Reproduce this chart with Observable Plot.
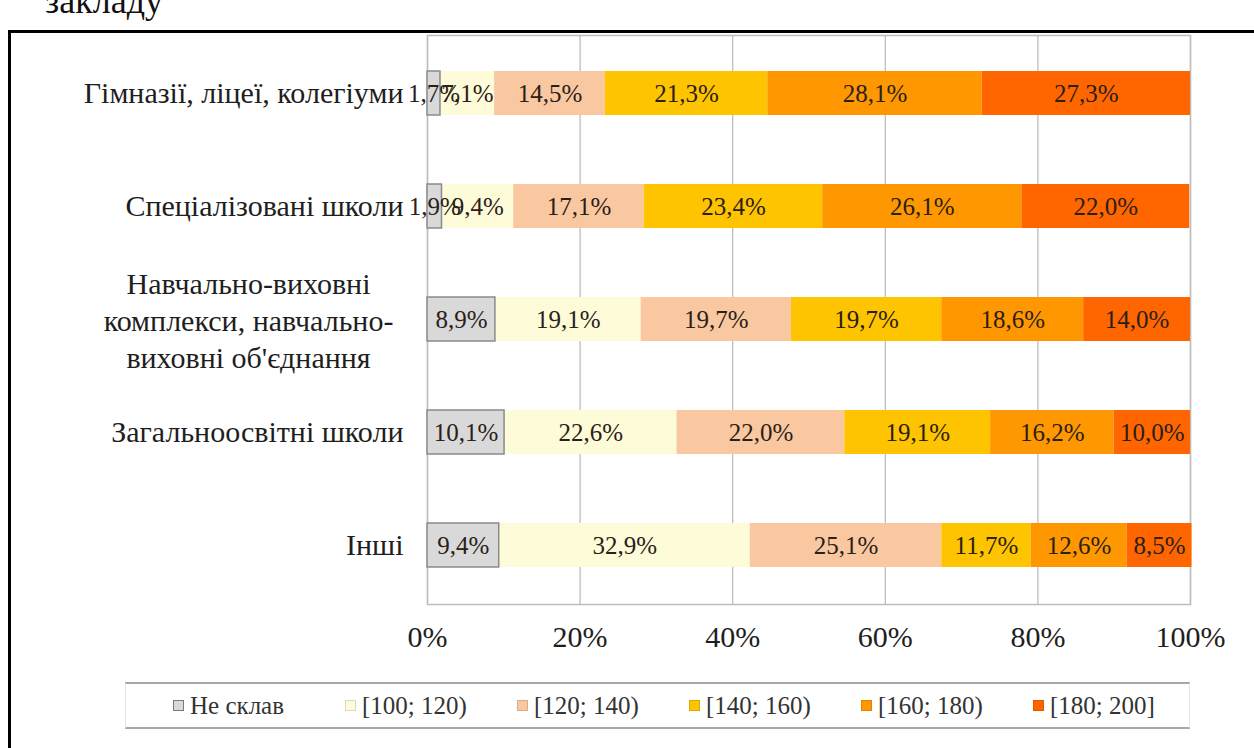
<!DOCTYPE html>
<html>
<head>
<meta charset="utf-8">
<script src="https://cdn.jsdelivr.net/npm/d3@7"></script>
<script src="https://cdn.jsdelivr.net/npm/@observablehq/plot@0.6"></script>
<style>
  html, body { margin: 0; padding: 0; background: #fff; width: 1254px; height: 748px; overflow: hidden; }
  body { position: relative; font-family: "Liberation Serif", "Times New Roman", serif; }
  #head { position: absolute; left: 45px; top: -20px; font-size: 36px; color: #111; }
  #box { position: absolute; left: 8px; top: 30px; right: -10px; bottom: -10px; border-left: 3px solid #000; border-top: 3px solid #000; }
  #chart { position: absolute; left: 0; top: 0; }
  #chart svg, #chart svg text { font-family: "Liberation Serif", "Times New Roman", serif !important; }
  #legend { position: absolute; left: 125px; top: 682px; width: 1065px; height: 47px;
            border-top: 2px solid #a6a6a6; border-bottom: 2px solid #a6a6a6; border-left: 1px solid #e4e4e4; border-right: 1px solid #e4e4e4;
            display: grid; grid-template-columns: repeat(6, 172px); align-items: center; padding-left: 47px; box-sizing: border-box;
            font-size: 25px; color: #333; }
  .item { display: flex; align-items: center; white-space: nowrap; }
  .sw { width: 11px; height: 11px; margin-right: 6px; box-sizing: border-box; }
</style>
</head>
<body>
<div id="head">закладу</div>
<div id="box"></div>
<div id="chart"></div>
<div id="legend"></div>
<script>
// ---- data ----
const categories = [
  "Гімназії, ліцеї, колегіуми",
  "Спеціалізовані школи",
  "Навчально-виховні комплекси, навчально-виховні об'єднання",
  "Загальноосвітні школи",
  "Інші"
];
const categoryLines = [
  ["Гімназії, ліцеї, колегіуми"],
  ["Спеціалізовані школи"],
  ["Навчально-виховні", "комплекси, навчально-", "виховні об'єднання"],
  ["Загальноосвітні школи"],
  ["Інші"]
];
const seriesNames = ["Не склав", "[100; 120)", "[120; 140)", "[140; 160)", "[160; 180)", "[180; 200]"];
const seriesColors = ["#d9d9d9", "#fefcd8", "#fac8a0", "#ffc400", "#ff9800", "#ff6600"];
const neSklav     = [1.7, 1.9, 8.9, 10.1, 9.4];
const s100_120    = [7.1, 9.4, 19.1, 22.6, 32.9];
const s120_140    = [14.5, 17.1, 19.7, 22.0, 25.1];
const s140_160    = [21.3, 23.4, 19.7, 19.1, 11.7];
const s160_180    = [28.1, 26.1, 18.6, 16.2, 12.6];
const s180_200    = [27.3, 22.0, 14.0, 10.0, 8.5];
const xTicks = [0, 0.2, 0.4, 0.6, 0.8, 1];

// ---- build table ----
const seriesValues = [neSklav, s100_120, s120_140, s140_160, s160_180, s180_200];
const rows = [];
categories.forEach((c, i) => {
  seriesNames.forEach((s, j) => rows.push({category: c, series: s, value: seriesValues[j][i]}));
});
const labelOf = new Map(categories.map((c, i) => [c, categoryLines[i].join("\n")]));
const single = categories.filter((c, i) => categoryLines[i].length === 1);
const multi = categories.filter((c, i) => categoryLines[i].length > 1);
const fmt = v => v.toFixed(1).replace(".", ",") + "%";
const serif = "'Liberation Serif', 'Times New Roman', serif";

const chart = Plot.plot({
  width: 1254,
  height: 660,
  marginLeft: 427,
  marginRight: 64,
  marginTop: 35,
  marginBottom: 56,
  style: {fontFamily: serif, background: "transparent", color: "#1e1e1e"},
  x: {domain: [0, 1], axis: null},
  y: {domain: categories, axis: null, paddingInner: 0.61, paddingOuter: 0.305},
  color: {domain: seriesNames, range: seriesColors},
  marks: [
    Plot.gridX(xTicks, {stroke: "#b8b8b8", strokeOpacity: 1, strokeWidth: 1.2}),
    Plot.frame({stroke: "#bdbdbd", strokeWidth: 1.5}),
    Plot.barX(rows, Plot.stackX({x: d => d.value / 100, y: "category", fill: "series", z: "series"})),
    Plot.barX(rows.filter(d => d.series === seriesNames[0]), {x: d => d.value / 100, y: "category", fill: "none", stroke: "#8a8a8a", strokeWidth: 1.5}),
    Plot.text(rows, Plot.stackX({x: d => d.value / 100, y: "category", z: "series", text: d => fmt(d.value), fill: "#2a2018", fontSize: 25, fontFamily: serif})),
    Plot.axisX(xTicks, {anchor: "bottom", tickSize: 0, tickPadding: 21, fontSize: 30, fontFamily: serif, tickFormat: d => Math.round(d * 100) + "%", fill: "#1e1e1e"}),
    Plot.text(single, {y: d => d, text: d => labelOf.get(d), frameAnchor: "left", dx: -24, textAnchor: "end", fontSize: 30, fontFamily: serif, fill: "#1e1e1e"}),
    Plot.text(multi, {y: d => d, text: d => labelOf.get(d), frameAnchor: "left", dx: -179, textAnchor: "middle", fontSize: 30, fontFamily: serif, lineHeight: 1.23, fill: "#1e1e1e"})
  ]
});
document.getElementById("chart").appendChild(chart);

// ---- legend ----
const legend = document.getElementById("legend");
seriesNames.forEach((s, j) => {
  const it = document.createElement("div");
  it.className = "item";
  const sw = document.createElement("span");
  sw.className = "sw";
  sw.style.background = seriesColors[j];
  sw.style.border = j === 0 ? "1.5px solid #7a7a7a" : "1px solid " + d3.color(seriesColors[j]).darker(0.4);
  const tx = document.createElement("span");
  tx.textContent = s;
  it.appendChild(sw);
  it.appendChild(tx);
  legend.appendChild(it);
});
</script>
</body>
</html>
